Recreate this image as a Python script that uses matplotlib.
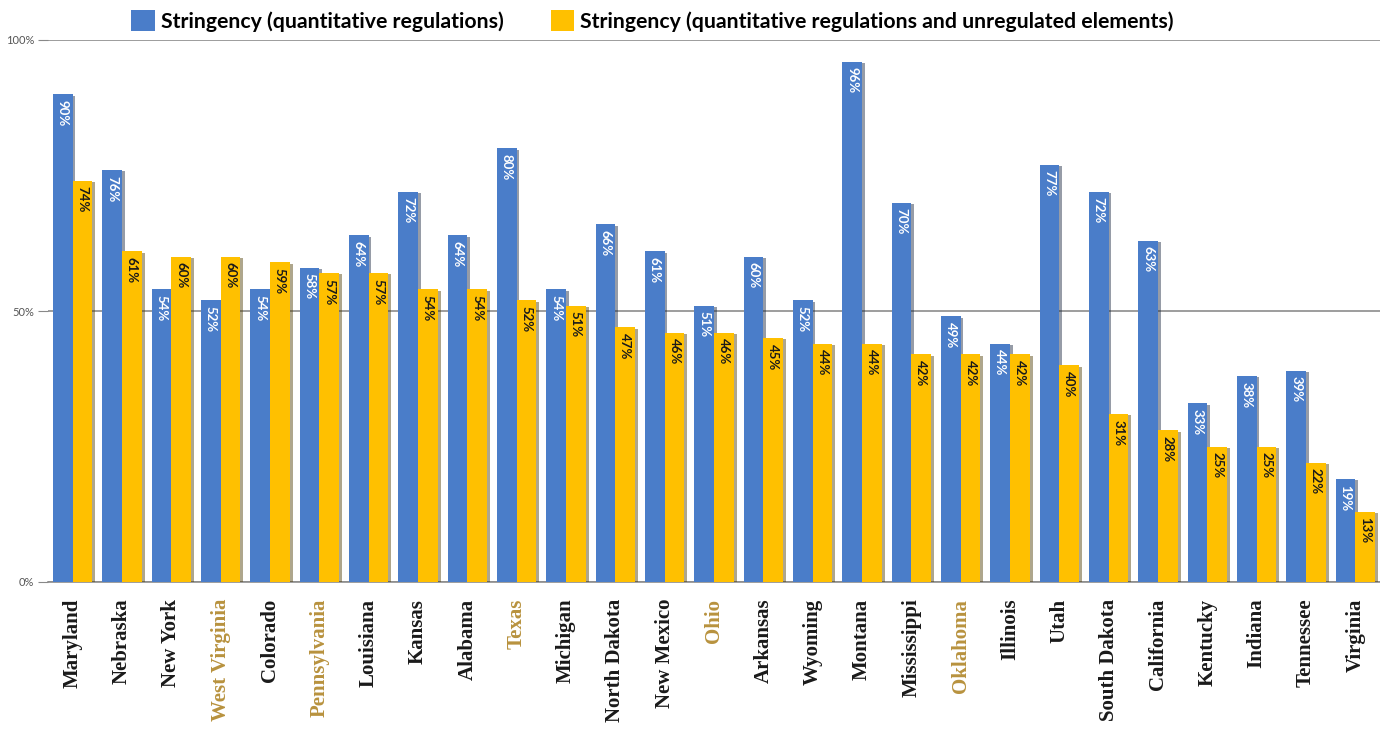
import matplotlib
matplotlib.use("Agg")
import matplotlib.pyplot as plt
import matplotlib.patheffects as pe
import numpy as np

# data
states = ["Maryland", "Nebraska", "New York", "West Virginia", "Colorado",
          "Pennsylvania", "Louisiana", "Kansas", "Alabama", "Texas", "Michigan",
          "North Dakota", "New Mexico", "Ohio", "Arkansas", "Wyoming", "Montana",
          "Mississippi", "Oklahoma", "Illinois", "Utah", "South Dakota",
          "California", "Kentucky", "Indiana", "Tennessee", "Virginia"]
quant = [90, 76, 54, 52, 54, 58, 64, 72, 64, 80, 54, 66, 61, 51, 60, 52, 96,
         70, 49, 44, 77, 72, 63, 33, 38, 39, 19]
quant_unreg = [74, 61, 60, 60, 59, 57, 57, 54, 54, 52, 51, 47, 46, 46, 45, 44,
               44, 42, 42, 42, 40, 31, 28, 25, 25, 22, 13]
highlighted = ["West Virginia", "Pennsylvania", "Texas", "Ohio", "Oklahoma"]

blue = "#4a7dc9"
gold = "#ffc000"

fig = plt.figure(figsize=(13.8, 7.29), dpi=100)
ax = fig.add_axes([48 / 1380, 147 / 729, 1 - 48 / 1380, (582 - 40) / 729])

x = np.arange(len(states))
w = 0.4
shadow = [pe.SimplePatchShadow(offset=(2, -1), alpha=0.45), pe.Normal()]
b1 = ax.bar(x - w / 2, quant, w, color=blue, label="Stringency (quantitative regulations)",
            path_effects=shadow, zorder=3)
b2 = ax.bar(x + w / 2, quant_unreg, w, color=gold,
            label="Stringency (quantitative regulations and unregulated elements)",
            path_effects=shadow, zorder=3)

for xi, v in zip(x - w / 2, quant):
    ax.annotate(f"{v}%", (xi, v), xytext=(0, -4), textcoords="offset points",
                ha="center", va="top", rotation=-90, color="white",
                fontsize=9.5, fontweight="bold", family="Lato", zorder=4)
for xi, v in zip(x + w / 2, quant_unreg):
    ax.annotate(f"{v}%", (xi, v), xytext=(0, -4), textcoords="offset points",
                ha="center", va="top", rotation=-90, color="#1a1a1a",
                fontsize=9.5, fontweight="bold", family="Lato", zorder=4)

ax.set_xlim(-0.5, len(states) - 0.5)
ax.set_ylim(0, 100)
ax.set_yticks([0, 50, 100])
ax.set_yticklabels(["0%", "50%", "100%"], fontsize=8, color="#555555", family="Lato")
ax.tick_params(axis="y", length=7, color="#888888", pad=3)
ax.yaxis.grid(True, color="#8c8c8c", lw=1.2, zorder=1)

ax.set_xticks(x)
ax.set_xticklabels(states, rotation=90, fontsize=15, fontweight="bold",
                   family="Liberation Serif")
ax.tick_params(axis="x", length=0, pad=12)
for lbl in ax.get_xticklabels():
    if lbl.get_text() in highlighted:
        lbl.set_color("#b8923e")
    else:
        lbl.set_color("#1a1a1a")

for s in ["left", "right", "top"]:
    ax.spines[s].set_visible(False)
ax.spines["bottom"].set_color("#8c8c8c")
ax.spines["bottom"].set_linewidth(1.2)

leg = ax.legend(handles=[b1, b2], ncol=2, loc="center",
                bbox_to_anchor=(0.473, 0.971), bbox_transform=fig.transFigure,
                frameon=False, prop={"family": "Lato", "weight": "bold", "size": 15.3},
                handlelength=1.1, handleheight=1.1, handletextpad=0.3,
                columnspacing=2.2)
for h in leg.legend_handles:
    h.set_path_effects([])

fig.savefig("out.png", dpi=100)
